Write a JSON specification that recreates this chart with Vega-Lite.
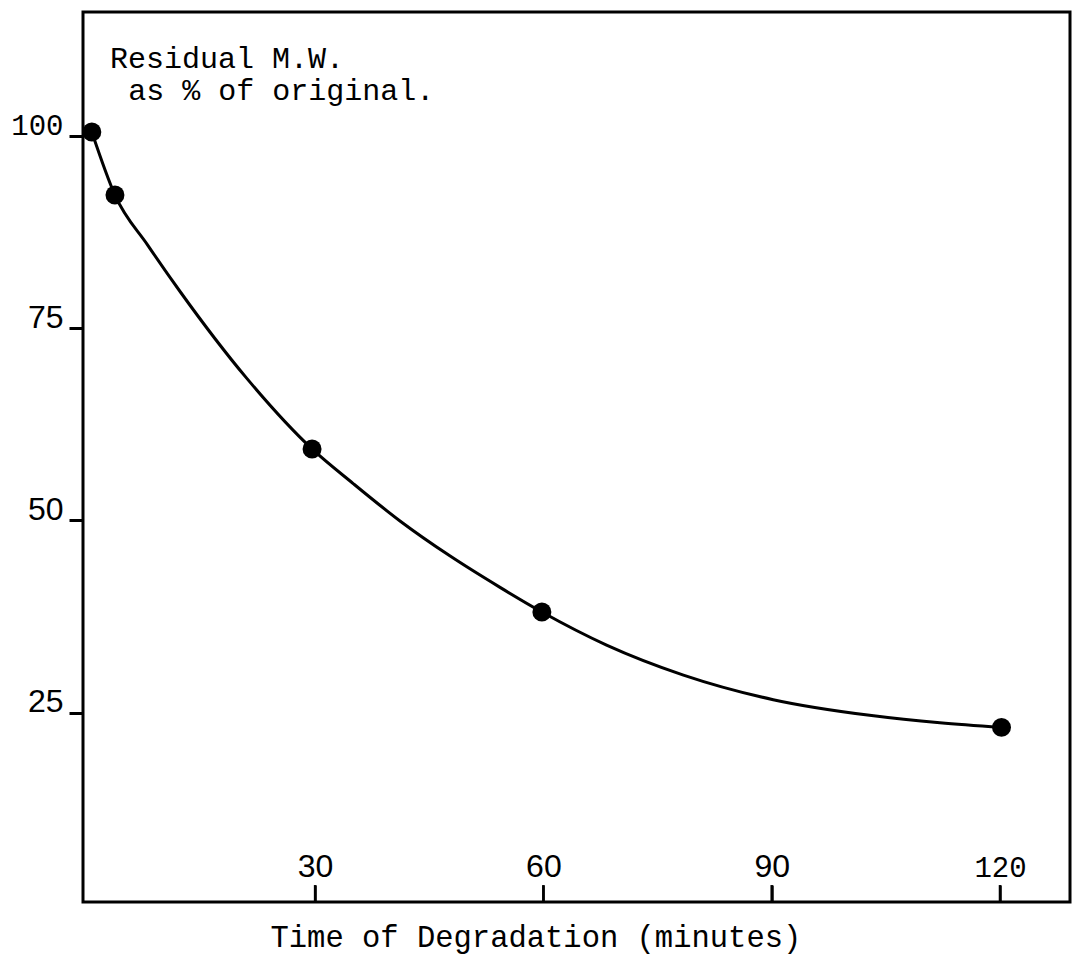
{
  "$schema": "https://vega.github.io/schema/vega-lite/v6.json",
  "width": 987,
  "height": 890,
  "autosize": {"type": "none"},
  "padding": {"left": 83, "top": 12, "right": 2, "bottom": 59},
  "background": "white",
  "config": {
    "view": {"stroke": "black", "strokeWidth": 3},
    "axis": {
      "grid": false,
      "domain": false,
      "ticks": true,
      "labelColor": "black",
      "tickColor": "black",
      "titleColor": "black",
      "titleFont": "Liberation Mono",
      "titleFontWeight": "normal"
    }
  },
  "datasets": {
    "points": [
      {"time": 0.66, "mw": 100.5},
      {"time": 3.7, "mw": 92.3},
      {"time": 29.6, "mw": 59.3},
      {"time": 59.8, "mw": 38.1},
      {"time": 120.2, "mw": 23.1}
    ],
    "curve": [
      {"time": 0.66, "mw": 100.5},
      {"time": 3.7, "mw": 92.3},
      {"time": 8.0, "mw": 85.8},
      {"time": 12.3, "mw": 79.7},
      {"time": 21.0, "mw": 68.5},
      {"time": 29.6, "mw": 59.3},
      {"time": 35.0, "mw": 54.8},
      {"time": 41.2, "mw": 49.9},
      {"time": 47.7, "mw": 45.4},
      {"time": 54.3, "mw": 41.3},
      {"time": 59.8, "mw": 38.1},
      {"time": 68.3, "mw": 33.8},
      {"time": 78.4, "mw": 29.9},
      {"time": 90.2, "mw": 26.7},
      {"time": 103.4, "mw": 24.6},
      {"time": 112.1, "mw": 23.7},
      {"time": 120.2, "mw": 23.1}
    ],
    "xticks": [
      {"time": 30},
      {"time": 60},
      {"time": 90},
      {"time": 120}
    ]
  },
  "layer": [
    {
      "data": {"name": "curve"},
      "mark": {"type": "line", "interpolate": "monotone", "color": "black", "strokeWidth": 3},
      "encoding": {
        "x": {
          "field": "time",
          "type": "quantitative",
          "scale": {"domain": [-0.5, 129.2], "nice": false, "zero": false},
          "axis": {
            "values": [30, 60, 90, 120],
            "ticks": true,
            "tickSize": -17,
            "tickWidth": 2.5,
            "labelPadding": -9,
            "labelBaseline": "alphabetic",
            "labelFont": {"condition": {"test": "datum.value >= 100", "value": "Liberation Mono"}, "value": "Liberation Sans"},
            "labelFontSize": {"condition": {"test": "datum.value >= 100", "value": 29}, "value": 32},
            "title": "Time of Degradation (minutes)",
            "titleFontSize": 30.5,
            "titleAlign": "left",
            "titleAnchor": "start",
            "titleX": 187,
            "titleY": 44,
            "titleBaseline": "alphabetic"
          }
        },
        "y": {
          "field": "mw",
          "type": "quantitative",
          "scale": {"domain": [0.4, 116.1], "nice": false, "zero": false},
          "axis": {
            "values": [25, 50, 75, 100],
            "tickSize": 14,
            "tickWidth": 3,
            "labelPadding": 6,
            "labelBaseline": "alphabetic",
            "labelOffset": -1,
            "labelFont": {"condition": {"test": "datum.value >= 100", "value": "Liberation Mono"}, "value": "Liberation Sans"},
            "labelFontSize": {"condition": {"test": "datum.value >= 100", "value": 29}, "value": 32},
            "title": null
          }
        }
      }
    },
    {
      "data": {"name": "xticks"},
      "mark": {"type": "rule", "color": "black", "strokeWidth": 2.5},
      "encoding": {
        "x": {"field": "time", "type": "quantitative"},
        "y": {"datum": 0.4, "type": "quantitative"},
        "y2": {"datum": 2.6}
      }
    },
    {
      "data": {"name": "points"},
      "mark": {"type": "point", "shape": "circle", "filled": true, "color": "black", "size": 360, "opacity": 1},
      "encoding": {
        "x": {"field": "time", "type": "quantitative"},
        "y": {"field": "mw", "type": "quantitative"}
      }
    },
    {
      "data": {"values": [{}]},
      "mark": {"type": "text", "font": "Liberation Mono", "fontSize": 30, "align": "left", "baseline": "alphabetic", "color": "black"},
      "encoding": {
        "x": {"datum": 3.05, "type": "quantitative"},
        "y": {"datum": 108.8, "type": "quantitative"},
        "text": {"value": "Residual M.W."}
      }
    },
    {
      "data": {"values": [{}]},
      "mark": {"type": "text", "font": "Liberation Mono", "fontSize": 30, "align": "left", "baseline": "alphabetic", "color": "black"},
      "encoding": {
        "x": {"datum": 5.45, "type": "quantitative"},
        "y": {"datum": 104.65, "type": "quantitative"},
        "text": {"value": "as % of original."}
      }
    }
  ]
}
